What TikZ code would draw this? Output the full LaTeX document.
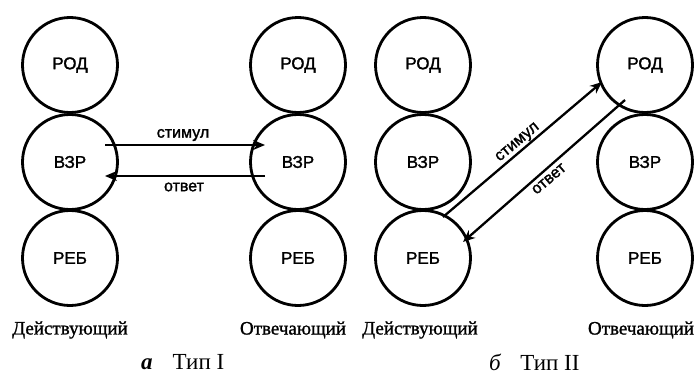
\documentclass[tikz,border=0pt]{standalone}
\usepackage{fontspec}
\setmainfont{Liberation Serif}
\newfontfamily\circfont[FakeBold=1.6]{Liberation Sans}
\newfontfamily\sidefont[FakeBold=1.2]{Liberation Serif}
\usetikzlibrary{calc,arrows.meta}
\tikzset{
  x=1pt,y=1pt,
  role/.style={circle,draw,line width=2.8pt,minimum size=95pt,inner sep=0pt,font=\circfont\fontsize{17}{17}\selectfont},
  conn/.style={line width=2.3pt,-{Stealth[length=12pt,width=10pt]}},
  arrlabel/.style={font=\circfont\fontsize{16}{16}\selectfont,inner sep=0pt},
  sidelabel/.style={font=\sidefont\fontsize{19}{19}\selectfont,inner sep=0pt},
  caption/.style={font=\fontsize{23}{23}\selectfont,inner sep=0pt}
}
\begin{document}
\begin{tikzpicture}
\useasboundingbox (0,0) rectangle (698,376);
% panel a
\node[role] (a1) at (70,311) {РОД};
\node[role] (a2) at (70,214) {ВЗР};
\node[role] (a3) at (70,118) {РЕБ};
\node[role] (b1) at (298,311) {РОД};
\node[role] (b2) at (298,214) {ВЗР};
\node[role] (b3) at (298,118) {РЕБ};
% panel b
\node[role] (c1) at (423,311) {РОД};
\node[role] (c2) at (423,214) {ВЗР};
\node[role] (c3) at (423,118) {РЕБ};
\node[role] (d1) at (645,311) {РОД};
\node[role] (d2) at (645,214) {ВЗР};
\node[role] (d3) at (645,118) {РЕБ};
% connectors type I
\coordinate (s1a) at ($(a2.center)+(35,17)$);
\coordinate (s1b) at ($(b2.center)+(-33,17)$);
\coordinate (r1a) at ($(b2.center)+(-33,-14)$);
\coordinate (r1b) at ($(a2.center)+(35,-14)$);
\draw[conn] (s1a) -- (s1b);
\draw[conn] (r1a) -- (r1b);
\node[arrlabel] (l1) at (183,241) {стимул};
\node[arrlabel] (l2) at (184,189) {ответ};
% connectors type II
\coordinate (s2a) at ($(c3.center)+(20,41)$);
\coordinate (s2b) at ($(d1.center)+(-43,-17)$);
\coordinate (r2a) at ($(d1.center)+(-20,-35)$);
\coordinate (r2b) at ($(c3.center)+(40,16)$);
\draw[conn] (s2a) -- (s2b);
\draw[conn] (r2a) -- (r2b);
\node[arrlabel,rotate=40] (l3) at (518,233) {стимул};
\node[arrlabel,rotate=40] (l4) at (549,197) {ответ};
% side labels
\node[sidelabel] (t1) at (70,46) {Действующий};
\node[sidelabel] (t2) at (293,46) {Отвечающий};
\node[sidelabel] (t3) at (420,46) {Действующий};
\node[sidelabel] (t4) at (641,46) {Отвечающий};
% captions
\node[caption,anchor=west] (cap1) at (141,14) {\textbf{\textit{а}}\hspace{20pt}Тип I};
\node[caption,anchor=west] (cap2) at (489,14) {\textit{б}\hspace{19pt}Тип II};
\end{tikzpicture}
\end{document}
